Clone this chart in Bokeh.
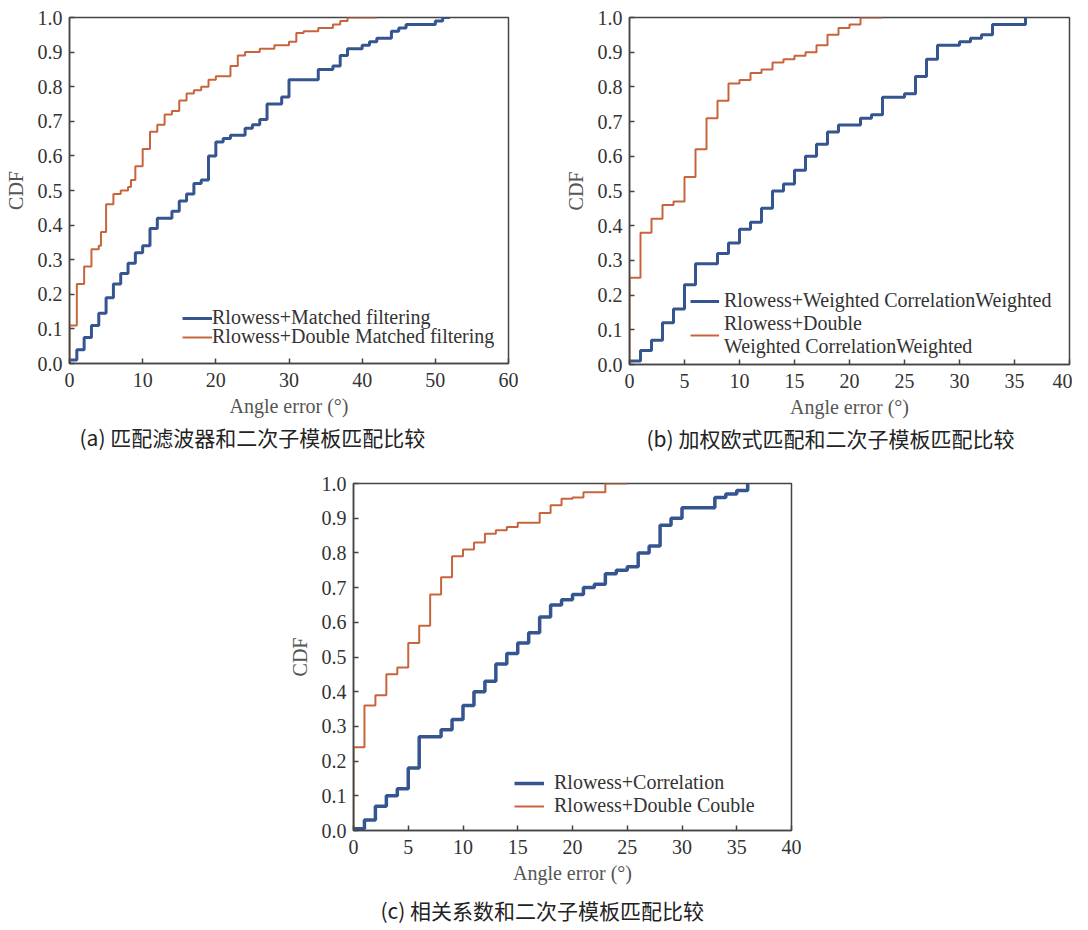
from bokeh.plotting import figure
from bokeh.models import (Range1d, FixedTicker, PrintfTickFormatter, Legend,
                          LegendItem, Title, Spacer)
from bokeh.layouts import row, column
from bokeh.embed import file_html
from bokeh.resources import INLINE

# ---------------- data ----------------
A_XTICKS = [0, 10, 20, 30, 40, 50, 60]
B_XTICKS = [0, 5, 10, 15, 20, 25, 30, 35, 40]
C_XTICKS = [0, 5, 10, 15, 20, 25, 30, 35, 40]
Y_TICKS = [0.0, 0.1, 0.2, 0.3, 0.4, 0.5, 0.6, 0.7, 0.8, 0.9, 1.0]

A_BLUE_X = [0, 0, 1, 2, 3, 4, 5, 6, 7, 8, 9, 10, 11, 12, 14, 15, 16, 17, 18, 19, 20,
            21, 22, 24, 25, 26, 27, 29, 30, 34, 36, 37, 38, 40, 41, 42, 44, 45, 46,
            50, 51, 52]
A_BLUE_Y = [0, 0.01, 0.04, 0.075, 0.11, 0.145, 0.19, 0.23, 0.26, 0.29, 0.32, 0.34,
            0.39, 0.42, 0.44, 0.47, 0.49, 0.52, 0.53, 0.60, 0.64, 0.65, 0.66, 0.68,
            0.69, 0.705, 0.75, 0.77, 0.82, 0.85, 0.86, 0.89, 0.91, 0.92, 0.93, 0.94,
            0.96, 0.97, 0.98, 0.99, 1.0, 1.0]
A_ORANGE_X = [0, 0, 1, 2, 3, 4, 4.3, 5, 6, 7, 8, 8.4, 9, 10, 11, 12, 13, 14, 15, 16,
              17, 18, 19, 20, 22, 23, 24, 26, 28, 30, 31, 32, 34, 36, 37, 38, 42]
A_ORANGE_Y = [0, 0.11, 0.23, 0.28, 0.33, 0.34, 0.38, 0.46, 0.49, 0.50, 0.51, 0.53,
              0.57, 0.62, 0.67, 0.69, 0.72, 0.73, 0.76, 0.78, 0.79, 0.80, 0.82, 0.83,
              0.86, 0.89, 0.90, 0.91, 0.92, 0.93, 0.955, 0.96, 0.97, 0.98, 0.99, 1.0, 1.0]

B_BLUE_X = [0, 0, 1, 2, 3, 4, 5, 6, 8, 9, 10, 11, 12, 13, 14, 15, 16, 17, 18, 19, 21,
            22, 23, 25, 26, 27, 28, 30, 31, 32, 33, 36, 36]
B_BLUE_Y = [0, 0.01, 0.04, 0.07, 0.12, 0.16, 0.23, 0.29, 0.32, 0.35, 0.39, 0.41, 0.45,
            0.50, 0.52, 0.56, 0.60, 0.635, 0.67, 0.69, 0.71, 0.72, 0.77, 0.78, 0.83,
            0.88, 0.92, 0.93, 0.94, 0.95, 0.98, 1.0, 1.0]
B_ORANGE_X = [0, 0, 1, 2, 3, 4, 5, 6, 7, 8, 9, 10, 11, 12, 13, 14, 15, 16, 17, 18, 19,
              20, 21, 23]
B_ORANGE_Y = [0, 0.25, 0.38, 0.42, 0.46, 0.47, 0.54, 0.62, 0.71, 0.76, 0.81, 0.82,
              0.84, 0.85, 0.87, 0.88, 0.89, 0.90, 0.92, 0.95, 0.97, 0.98, 1.0, 1.0]

C_BLUE_X = [0, 0, 1, 2, 3, 4, 5, 6, 8, 9, 10, 11, 12, 13, 14, 15, 16, 17, 18, 19, 20,
            21, 22, 23, 24, 25, 26, 27, 28, 29, 30, 33, 34, 35, 36, 36]
C_BLUE_Y = [0, 0.005, 0.03, 0.07, 0.10, 0.12, 0.18, 0.27, 0.29, 0.32, 0.36, 0.40,
            0.43, 0.48, 0.51, 0.54, 0.57, 0.615, 0.65, 0.665, 0.68, 0.70, 0.71, 0.74,
            0.75, 0.76, 0.80, 0.82, 0.88, 0.90, 0.93, 0.96, 0.97, 0.98, 1.0, 1.0]
C_ORANGE_X = [0, 0, 1, 2, 3, 4, 5, 6, 7, 8, 9, 10, 11, 12, 13, 14, 15, 17, 18, 19, 20,
              21, 23, 25]
C_ORANGE_Y = [0, 0.24, 0.36, 0.39, 0.45, 0.47, 0.54, 0.59, 0.68, 0.73, 0.79, 0.81,
              0.83, 0.855, 0.865, 0.875, 0.887, 0.915, 0.937, 0.956, 0.96, 0.975, 1.0, 1.0]

A_LABELS = ["Rlowess+Matched filtering", "Rlowess+Double Matched filtering"]
B_LABELS = ["Rlowess+Weighted CorrelationWeighted",
            "Rlowess+Double\nWeighted CorrelationWeighted"]
C_LABELS = ["Rlowess+Correlation", "Rlowess+Double Couble"]

A_CAPTION = "(a)  匹配滤波器和二次子模板匹配比较"
B_CAPTION = "(b)  加权欧式匹配和二次子模板匹配比较"
C_CAPTION = "(c)  相关系数和二次子模板匹配比较"

X_LABEL = "Angle error (°)"
Y_LABEL = "CDF"

BLUE = "#34558f"
ORANGE = "#c8643c"
AXIS = "#444444"
SERIF = "Liberation Serif"


def make_legend(items, loc, glyph_w, standoff, lh):
    legend = Legend(items=items, location=loc)
    legend.border_line_color = None
    legend.background_fill_alpha = 0
    legend.padding = 0
    legend.margin = 0
    legend.spacing = 0
    legend.glyph_width = glyph_w
    legend.glyph_height = 16
    legend.label_height = 16
    legend.label_standoff = standoff
    legend.label_text_font = SERIF
    legend.label_text_font_size = "20px"
    legend.label_text_color = "#333333"
    legend.label_text_line_height = lh
    return legend


def panel(xmax, xticks, bx, by, ox, oy, labels, caption,
          fw, fh, bl, br, bt, bb, leg_locs, leg_lh, glyph_w, standoff,
          cap_off, cap_standoff, blue_w):
    p = figure(frame_width=fw, frame_height=fh, min_border_left=bl,
               min_border_right=br, min_border_top=bt, min_border_bottom=bb,
               x_range=Range1d(0, xmax), y_range=Range1d(0, 1),
               output_backend="svg", toolbar_location=None,
               background_fill_color="white", border_fill_color="white")
    p.grid.visible = False
    p.outline_line_color = AXIS
    p.outline_line_width = 1.5
    p.outline_line_alpha = 1.0

    rb = p.step(bx, by, mode="after", line_color=BLUE, line_width=blue_w)
    ro = p.step(ox, oy, mode="after", line_color=ORANGE, line_width=2)

    for ax in (p.xaxis[0], p.yaxis[0]):
        ax.axis_line_color = AXIS
        ax.axis_line_width = 1.5
        ax.major_tick_line_color = AXIS
        ax.major_tick_line_width = 1.5
        ax.major_tick_in = 5
        ax.major_tick_out = 0
        ax.minor_tick_line_color = None
        ax.major_label_text_font = SERIF
        ax.major_label_text_font_size = "20px"
        ax.major_label_text_color = "#333333"
        ax.axis_label_text_font = SERIF
        ax.axis_label_text_font_size = "20px"
        ax.axis_label_text_font_style = "normal"
        ax.axis_label_text_color = "#555555"

    p.xaxis.ticker = FixedTicker(ticks=xticks)
    p.yaxis.ticker = FixedTicker(ticks=Y_TICKS)
    p.yaxis.formatter = PrintfTickFormatter(format="%.1f")
    p.xaxis.axis_label = X_LABEL
    p.yaxis.axis_label = Y_LABEL
    p.xaxis.major_label_standoff = 9
    p.xaxis.axis_label_standoff = 5
    p.yaxis.major_label_standoff = 7
    p.yaxis.axis_label_standoff = 8

    item_b = LegendItem(label=labels[0], renderers=[rb])
    item_o = LegendItem(label=labels[1], renderers=[ro])
    if len(leg_locs) == 2:
        p.add_layout(make_legend([item_b], leg_locs[0], glyph_w, standoff, leg_lh), "center")
        p.add_layout(make_legend([item_o], leg_locs[1], glyph_w, standoff, leg_lh), "center")
    else:
        p.add_layout(make_legend([item_b, item_o], leg_locs[0], glyph_w, standoff, leg_lh),
                     "center")

    t = Title(text=caption, align="left", offset=cap_off,
              text_font="Noto Sans CJK SC", text_font_size="21px",
              text_font_style="normal", text_color="#222222",
              standoff=cap_standoff)
    p.add_layout(t, "below")
    return p


pa = panel(60, A_XTICKS, A_BLUE_X, A_BLUE_Y, A_ORANGE_X, A_ORANGE_Y, A_LABELS,
           A_CAPTION, fw=439, fh=346, bl=69, br=10, bt=17, bb=104,
           leg_locs=[(113, 34), (113, 15)], leg_lh=1.0, glyph_w=30, standoff=0,
           cap_off=10, cap_standoff=0, blue_w=3)
pb = panel(40, B_XTICKS, B_BLUE_X, B_BLUE_Y, B_ORANGE_X, B_ORANGE_Y, B_LABELS,
           B_CAPTION, fw=440, fh=347, bl=111, br=3, bt=14, bb=106,
           leg_locs=[(61, 6)], leg_lh=1.0, glyph_w=29, standoff=5,
           cap_off=17, cap_standoff=0, blue_w=3)
pc = panel(40, C_XTICKS, C_BLUE_X, C_BLUE_Y, C_ORANGE_X, C_ORANGE_Y, C_LABELS,
           C_CAPTION, fw=438, fh=347, bl=64, br=10, bt=16, bb=92,
           leg_locs=[(161, 13)], leg_lh=1.05, glyph_w=30, standoff=10,
           cap_off=27, cap_standoff=13, blue_w=3.5)

layout = column(row(pa, pb), row(Spacer(width=285, height=455), pc))

open("out.html", "w").write(file_html(layout, INLINE))
